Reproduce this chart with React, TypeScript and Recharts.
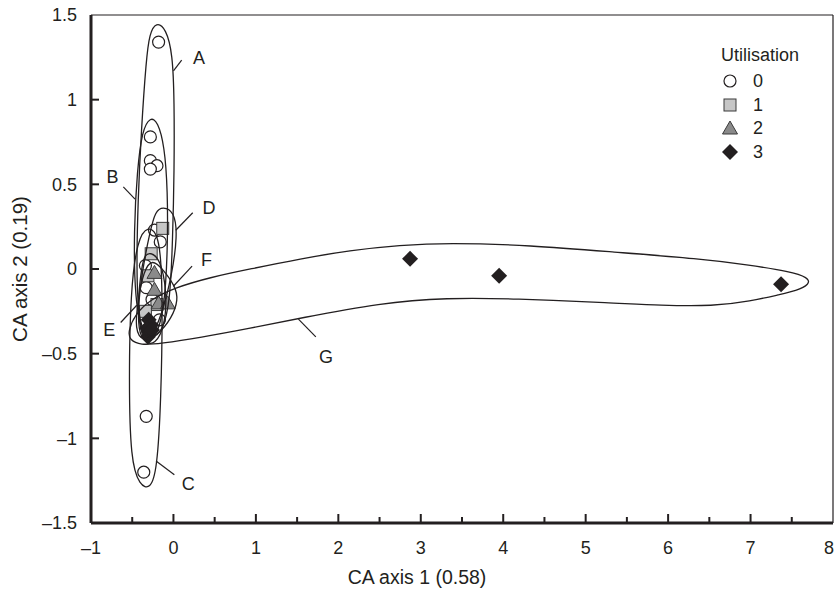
import { ScatterChart, Scatter, XAxis, YAxis, ReferenceLine, ReferenceDot } from 'recharts'

const FONT = '"Liberation Sans", Arial, Helvetica, sans-serif'
const INK = '#231f20'

const W = 835
const H = 593
const PLOT_LEFT = 91
const PLOT_BOTTOM = 523

// sites by utilisation class (CA axis 1, CA axis 2)
const use0 = [
  { x: -0.18, y: 1.34 },
  { x: -0.28, y: 0.78 },
  { x: -0.28, y: 0.64 },
  { x: -0.2, y: 0.61 },
  { x: -0.28, y: 0.59 },
  { x: -0.23, y: 0.23 },
  { x: -0.16, y: 0.16 },
  { x: -0.34, y: 0.02 },
  { x: -0.33, y: -0.11 },
  { x: -0.26, y: -0.18 },
  { x: -0.17, y: -0.3 },
  { x: -0.31, y: -0.36 },
  { x: -0.33, y: -0.87 },
  { x: -0.36, y: -1.2 },
]
const use1 = [
  { x: -0.13, y: 0.24 },
  { x: -0.27, y: 0.09 },
  { x: -0.31, y: -0.04 },
  { x: -0.2, y: -0.21 },
  { x: -0.34, y: -0.25 },
]
const use2 = [
  { x: -0.23, y: -0.02 },
  { x: -0.23, y: -0.12 },
  { x: -0.18, y: -0.2 },
  { x: -0.07, y: -0.2 },
]
const use3 = [
  { x: -0.3, y: -0.3 },
  { x: -0.27, y: -0.33 },
  { x: -0.32, y: -0.35 },
  { x: -0.29, y: -0.37 },
  { x: -0.31, y: -0.4 },
  { x: -0.26, y: -0.36 },
  { x: 2.87, y: 0.06 },
  { x: 3.95, y: -0.04 },
  { x: 7.37, y: -0.09 },
]

// hand traced group envelopes (control points, smoothed as closed B-spline)
const outlineA = [
  { x: -0.21, y: 1.46 }, { x: -0.09, y: 1.42 }, { x: -0.01, y: 1.27 }, { x: 0.01, y: 1.0 },
  { x: 0.01, y: 0.58 }, { x: -0.01, y: 0.17 }, { x: -0.04, y: -0.19 }, { x: -0.13, y: -0.37 },
  { x: -0.28, y: -0.42 }, { x: -0.42, y: -0.34 }, { x: -0.45, y: -0.01 }, { x: -0.43, y: 0.41 },
  { x: -0.39, y: 0.82 }, { x: -0.33, y: 1.24 }, { x: -0.29, y: 1.39 },
]
const outlineB = [
  { x: -0.28, y: 0.9 }, { x: -0.19, y: 0.87 }, { x: -0.11, y: 0.73 }, { x: -0.07, y: 0.47 },
  { x: -0.07, y: 0.11 }, { x: -0.11, y: -0.24 }, { x: -0.22, y: -0.42 }, { x: -0.37, y: -0.41 },
  { x: -0.47, y: -0.18 }, { x: -0.48, y: 0.23 }, { x: -0.44, y: 0.58 }, { x: -0.38, y: 0.82 },
]
const outlineC = [
  { x: -0.31, y: 0.26 }, { x: -0.16, y: 0.2 }, { x: -0.13, y: -0.18 }, { x: -0.15, y: -0.78 },
  { x: -0.2, y: -1.19 }, { x: -0.28, y: -1.3 }, { x: -0.41, y: -1.28 }, { x: -0.52, y: -1.13 },
  { x: -0.54, y: -0.66 }, { x: -0.52, y: -0.13 }, { x: -0.44, y: 0.17 },
]
const outlineD = [
  { x: -0.13, y: 0.37 }, { x: 0.01, y: 0.34 }, { x: 0.05, y: 0.2 }, { x: -0.02, y: -0.04 },
  { x: -0.14, y: -0.27 }, { x: -0.28, y: -0.42 }, { x: -0.4, y: -0.42 }, { x: -0.44, y: -0.27 },
  { x: -0.38, y: -0.01 }, { x: -0.28, y: 0.23 }, { x: -0.22, y: 0.34 },
]
const outlineE = [
  { x: -0.28, y: 0.1 }, { x: -0.16, y: 0.06 }, { x: -0.08, y: -0.13 }, { x: -0.1, y: -0.33 },
  { x: -0.22, y: -0.45 }, { x: -0.37, y: -0.44 }, { x: -0.44, y: -0.24 }, { x: -0.4, y: -0.04 },
  { x: -0.36, y: 0.08 },
]
const outlineF = [
  { x: -0.26, y: 0.06 }, { x: -0.13, y: 0.0 }, { x: 0.02, y: -0.1 }, { x: 0.06, y: -0.18 },
  { x: -0.02, y: -0.29 }, { x: -0.19, y: -0.39 }, { x: -0.37, y: -0.43 }, { x: -0.47, y: -0.36 },
  { x: -0.43, y: -0.18 }, { x: -0.36, y: -0.01 },
]
const outlineG = [
  { x: -0.55, y: -0.37 }, { x: -0.47, y: -0.27 }, { x: -0.28, y: -0.18 }, { x: 0.02, y: -0.11 },
  { x: 0.44, y: -0.05 }, { x: 0.93, y: 0.0 }, { x: 1.54, y: 0.06 }, { x: 2.14, y: 0.11 },
  { x: 2.75, y: 0.14 }, { x: 3.32, y: 0.155 }, { x: 4.33, y: 0.14 }, { x: 5.34, y: 0.1 },
  { x: 6.39, y: 0.06 }, { x: 6.96, y: 0.025 }, { x: 7.48, y: -0.015 }, { x: 7.7, y: -0.05 },
  { x: 7.72, y: -0.09 }, { x: 7.55, y: -0.13 }, { x: 7.36, y: -0.15 }, { x: 7.0, y: -0.19 },
  { x: 6.55, y: -0.22 }, { x: 5.9, y: -0.215 }, { x: 5.34, y: -0.2 }, { x: 4.12, y: -0.175 },
  { x: 3.32, y: -0.17 }, { x: 2.51, y: -0.2 }, { x: 1.54, y: -0.29 }, { x: 0.93, y: -0.35 },
  { x: 0.32, y: -0.405 }, { x: -0.16, y: -0.44 }, { x: -0.4, y: -0.45 }, { x: -0.53, y: -0.42 },
]
const outlines = [outlineA, outlineB, outlineC, outlineD, outlineE, outlineF, outlineG]

// group letters and their leader lines
const groupLabels = [
  { name: 'A', x: 0.31, y: 1.25, from: { x: 0.1, y: 1.234 }, to: { x: 0.0, y: 1.17 } },
  { name: 'B', x: -0.74, y: 0.548, from: { x: -0.608, y: 0.485 }, to: { x: -0.466, y: 0.413 } },
  { name: 'C', x: 0.18, y: -1.268, from: { x: -0.211, y: -1.134 }, to: { x: 0.011, y: -1.215 } },
  { name: 'D', x: 0.43, y: 0.361, from: { x: 0.028, y: 0.229 }, to: { x: 0.234, y: 0.332 } },
  { name: 'E', x: -0.78, y: -0.356, from: { x: -0.64, y: -0.316 }, to: { x: -0.445, y: -0.214 } },
  { name: 'F', x: 0.4, y: 0.056, from: { x: -0.001, y: -0.102 }, to: { x: 0.226, y: 0.017 } },
  { name: 'G', x: 1.85, y: -0.515, from: { x: 1.516, y: -0.296 }, to: { x: 1.727, y: -0.401 } },
]

const xTicks = [-1, -0.5, 0, 0.5, 1, 1.5, 2, 2.5, 3, 3.5, 4, 4.5, 5, 5.5, 6, 6.5, 7, 7.5, 8]
const yTicks = [-1.5, -1, -0.5, 0, 0.5, 1, 1.5]

const legendItems = ['0', '1', '2', '3']

function fmt(v: number) {
  return v < 0 ? `\u2013${Math.abs(v)}` : `${v}`
}

const Ring = ({ cx, cy }: any) => (
  <circle cx={cx} cy={cy} r={6} fill="#fff" stroke={INK} strokeWidth={1.2} />
)
const Box = ({ cx, cy }: any) => (
  <rect x={cx - 6} y={cy - 6} width={12} height={12} fill="#c6c6c6" stroke="#3a3a3a" strokeWidth={1} />
)
const Tri = ({ cx, cy }: any) => (
  <polygon
    points={`${cx},${cy - 7} ${cx + 7.5},${cy + 6} ${cx - 7.5},${cy + 6}`}
    fill="#8a8a8a"
    stroke="#3a3a3a"
    strokeWidth={1}
  />
)
const Diamond = ({ cx, cy }: any) => (
  <polygon points={`${cx},${cy - 8} ${cx + 8},${cy} ${cx},${cy + 8} ${cx - 8},${cy}`} fill={INK} />
)
const Nothing = () => <g />

const XTick = ({ x, payload }: any) => {
  const v = payload.value
  const major = Number.isInteger(v)
  const edge = v === -1 || v === 8
  // the last label sits at the right edge of the figure, keep it inside
  const last = v === 8
  return (
    <g>
      {!edge && (
        <line x1={x} x2={x} y1={PLOT_BOTTOM} y2={PLOT_BOTTOM - (major ? 9 : 6)} stroke={INK} strokeWidth={2} />
      )}
      {major && (
        <text
          x={last ? W - 1 : x}
          y={PLOT_BOTTOM + 31}
          textAnchor={last ? 'end' : 'middle'}
          fontSize={18}
          fill={INK}
          fontFamily={FONT}
        >
          {fmt(v)}
        </text>
      )}
    </g>
  )
}

const YTick = ({ y, payload }: any) => {
  const v = payload.value
  const edge = v === -1.5 || v === 1.5
  return (
    <g>
      {!edge && <line x1={PLOT_LEFT} x2={PLOT_LEFT + 8} y1={y} y2={y} stroke={INK} strokeWidth={2} />}
      <text x={77} y={y} dy="0.35em" textAnchor="end" fontSize={18} fill={INK} fontFamily={FONT}>
        {fmt(v)}
      </text>
    </g>
  )
}

const LegendIcon = ({ kind }: { kind: string }) => (
  <svg width={18} height={18} style={{ display: 'block' }}>
    {kind === '0' && <Ring cx={9} cy={9} />}
    {kind === '1' && <Box cx={9} cy={9} />}
    {kind === '2' && <Tri cx={9} cy={9} />}
    {kind === '3' && <Diamond cx={9} cy={9} />}
  </svg>
)

export default function App() {
  return (
    <div style={{ position: 'absolute', left: 0, top: 0, width: W, height: H, background: '#fff', fontFamily: FONT }}>
      <ScatterChart width={W} height={H} margin={{ top: 15, right: 2, bottom: 0, left: 0 }}>
        <XAxis
          type="number"
          dataKey="x"
          domain={[-1, 8]}
          ticks={xTicks}
          interval={0}
          height={70}
          allowDataOverflow
          axisLine={{ stroke: INK, strokeWidth: 3 }}
          tickLine={false}
          tick={<XTick />}
          label={{
            content: () => (
              <text x={417} y={584} textAnchor="middle" fontSize={19.5} fill={INK} fontFamily={FONT}>
                CA axis 1 (0.58)
              </text>
            ),
          }}
        />
        <YAxis
          type="number"
          dataKey="y"
          domain={[-1.5, 1.5]}
          ticks={yTicks}
          interval={0}
          width={91}
          allowDataOverflow
          axisLine={{ stroke: INK, strokeWidth: 3 }}
          tickLine={false}
          tick={<YTick />}
          label={{
            content: () => (
              <text
                x={20}
                y={269}
                transform="rotate(-90 20 269)"
                textAnchor="middle"
                dy="0.35em"
                fontSize={20.5}
                fill={INK}
                fontFamily={FONT}
              >
                CA axis 2 (0.19)
              </text>
            ),
          }}
        />
        <ReferenceLine y={1.5} stroke={INK} strokeWidth={1.2} />
        <ReferenceLine x={8} stroke={INK} strokeWidth={1.2} />

        <Scatter data={use0} shape={Ring} isAnimationActive={false} />
        <Scatter data={use1} shape={Box} isAnimationActive={false} />
        <Scatter data={use2} shape={Tri} isAnimationActive={false} />
        <Scatter data={use3} shape={Diamond} isAnimationActive={false} />

        {outlines.map((pts, i) => (
          <Scatter
            key={i}
            data={pts}
            shape={Nothing}
            line={{ stroke: INK, strokeWidth: 1.3 }}
            lineJointType="basisClosed"
            isAnimationActive={false}
          />
        ))}

        {groupLabels.map((g) => (
          <ReferenceLine key={`l${g.name}`} segment={[g.from, g.to]} stroke={INK} strokeWidth={1.2} />
        ))}
        {groupLabels.map((g) => (
          <ReferenceDot
            key={`t${g.name}`}
            x={g.x}
            y={g.y}
            r={0}
            fill="none"
            stroke="none"
            label={{ value: g.name, position: 'center', fontSize: 18, fill: INK, fontFamily: FONT }}
          />
        ))}
      </ScatterChart>

      <div style={{ position: 'absolute', left: 721, top: 44, fontSize: 18, color: INK, lineHeight: '22px' }}>
        Utilisation
      </div>
      {legendItems.map((k, i) => (
        <div
          key={k}
          style={{
            position: 'absolute',
            left: 721,
            top: 72 + i * 23.5,
            display: 'flex',
            alignItems: 'center',
            gap: 14,
            fontSize: 18,
            color: INK,
            lineHeight: '18px',
          }}
        >
          <LegendIcon kind={k} />
          <span>{k}</span>
        </div>
      ))}
    </div>
  )
}
